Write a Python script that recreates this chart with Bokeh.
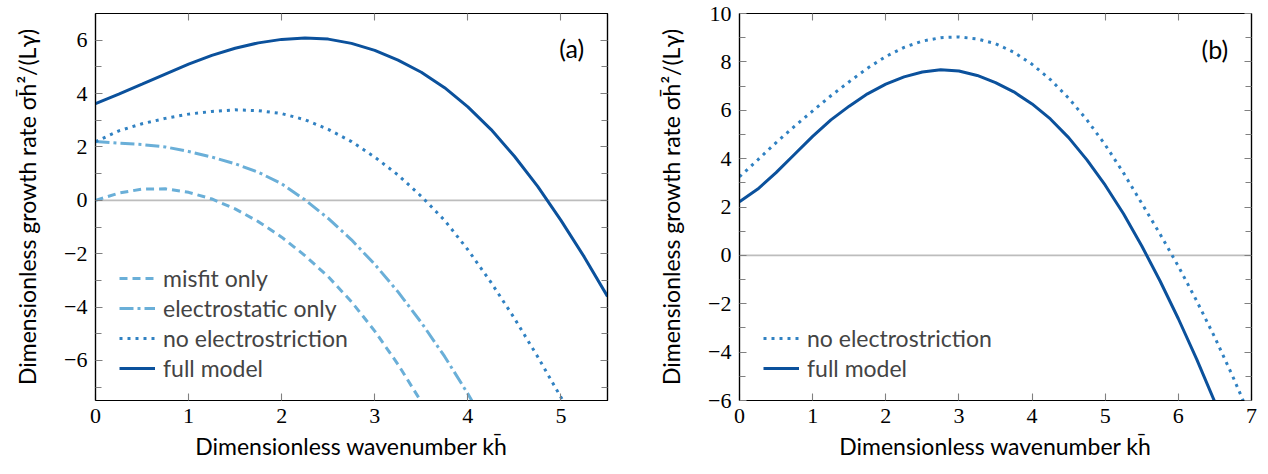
import numpy as np
from bokeh.plotting import figure
from bokeh.models import (Range1d, LinearAxis, FixedTicker, Span, Legend,
                          LegendItem, Label, CustomJSTickFormatter)
from bokeh.layouts import row
from bokeh.embed import file_html
from bokeh.resources import INLINE

# ---------------- panel (a) data ----------------
ka_misfit = [0, 0.25, 0.5, 0.75, 1.0, 1.25, 1.5, 1.75, 2.0, 2.25, 2.5, 2.75, 3.0, 3.25, 3.5]
sa_misfit = [0.0, 0.27, 0.42, 0.43, 0.3, 0.05, -0.32, -0.8, -1.38, -2.07, -2.86, -3.8, -4.9, -6.15, -7.55]

ka_elec = [0, 0.25, 0.5, 0.75, 1.0, 1.25, 1.5, 1.75, 2.0, 2.25, 2.5, 2.75, 3.0, 3.25, 3.5, 3.75, 4.0, 4.05]
sa_elec = [2.2, 2.14, 2.09, 2.0, 1.83, 1.62, 1.37, 1.05, 0.62, 0.02, -0.68, -1.48, -2.4, -3.43, -4.58, -5.85, -7.25, -7.55]

ka_noes = [0, 0.25, 0.5, 0.75, 1.0, 1.25, 1.5, 1.75, 2.0, 2.25, 2.5, 2.75, 3.0, 3.25, 3.5, 3.75, 4.0, 4.25, 4.5, 4.75, 5.0, 5.05]
sa_noes = [2.2, 2.6, 2.87, 3.07, 3.23, 3.33, 3.39, 3.36, 3.25, 3.02, 2.66, 2.2, 1.62, 0.95, 0.15, -0.75, -1.85, -3.08, -4.42, -5.86, -7.38, -7.7]

ka_full = [0, 0.25, 0.5, 0.75, 1.0, 1.25, 1.5, 1.75, 2.0, 2.25, 2.5, 2.75, 3.0, 3.25, 3.5, 3.75, 4.0, 4.25, 4.5, 4.75, 5.0, 5.25, 5.5]
sa_full = [3.62, 3.98, 4.35, 4.73, 5.1, 5.43, 5.7, 5.9, 6.03, 6.08, 6.04, 5.88, 5.62, 5.25, 4.8, 4.22, 3.5, 2.65, 1.65, 0.52, -0.75, -2.12, -3.6]

# ---------------- panel (b) data ----------------
kb_noes = [0, 0.25, 0.5, 0.75, 1.0, 1.25, 1.5, 1.75, 2.0, 2.25, 2.5, 2.75, 3.0, 3.25, 3.5, 3.75, 4.0, 4.25, 4.5, 4.75, 5.0, 5.25, 5.5, 5.75, 6.0, 6.25, 6.5, 6.75, 6.9]
sb_noes = [3.25, 3.95, 4.66, 5.33, 5.97, 6.6, 7.18, 7.74, 8.22, 8.6, 8.86, 9.0, 9.03, 8.95, 8.75, 8.4, 7.9, 7.27, 6.5, 5.6, 4.57, 3.41, 2.15, 0.88, -0.45, -1.88, -3.4, -5.05, -6.1]

kb_full = [0, 0.25, 0.5, 0.75, 1.0, 1.25, 1.5, 1.75, 2.0, 2.25, 2.5, 2.75, 3.0, 3.25, 3.5, 3.75, 4.0, 4.25, 4.5, 4.75, 5.0, 5.25, 5.5, 5.75, 6.0, 6.25, 6.5]
sb_full = [2.22, 2.74, 3.42, 4.17, 4.92, 5.6, 6.17, 6.68, 7.08, 7.38, 7.58, 7.67, 7.62, 7.44, 7.14, 6.76, 6.26, 5.64, 4.87, 3.95, 2.9, 1.72, 0.39, -1.06, -2.62, -4.29, -6.07]

# ticks / labels
xa_ticks = [0, 1, 2, 3, 4, 5]
ya_ticks = [-6, -4, -2, 0, 2, 4, 6]
ya_minor = [-7, -5, -3, -1, 1, 3, 5]
xb_ticks = [0, 1, 2, 3, 4, 5, 6, 7]
yb_ticks = [-6, -4, -2, 0, 2, 4, 6, 8, 10]
yb_minor = [-5, -3, -1, 1, 3, 5, 7, 9]

XLABEL = "Dimensionless wavenumber kh\u0304"
YLABEL = "Dimensionless growth rate \u03c3h\u0304\u00b2/(L\u03b3)"

C_FULL = "#0b519c"
C_DOT = "#3081c2"
C_LIGHT = "#6aafd8"
TICK_C = "#808080"
SANS = "Lato"
SERIF = "Liberation Serif"

fmt_js = "return tick < 0 ? '\\u2212' + Math.abs(tick) : tick.toString();"
blank_js = "return '';"


def make_fig(xr, yr, xt, yt, ym, bl, br):
    p = figure(frame_width=512, frame_height=387, x_range=Range1d(*xr), y_range=Range1d(*yr),
               output_backend="svg", toolbar_location=None,
               min_border_left=bl, min_border_right=br, min_border_top=13, min_border_bottom=0)
    p.grid.visible = False
    p.outline_line_color = "black"
    p.outline_line_width = 1.2
    p.background_fill_color = "white"
    p.border_fill_color = "white"

    def style_axis(ax, ticks, minor, show_labels):
        ax.ticker = FixedTicker(ticks=ticks, minor_ticks=minor)
        ax.major_tick_in = 7
        ax.major_tick_out = 0
        ax.minor_tick_in = 6
        ax.minor_tick_out = 0
        ax.major_tick_line_color = TICK_C
        ax.minor_tick_line_color = TICK_C
        ax.major_tick_line_width = 1.1
        ax.minor_tick_line_width = 1.1
        ax.axis_line_color = "black"
        ax.axis_line_width = 1.2
        if show_labels:
            ax.formatter = CustomJSTickFormatter(code=fmt_js)
            ax.major_label_text_font = SERIF
            ax.major_label_text_font_size = "22px"
            ax.major_label_text_color = "black"
            ax.major_label_standoff = 8
            ax.axis_label_text_font = SANS
            ax.axis_label_text_font_size = "23px"
            ax.axis_label_text_font_style = "normal"
            ax.axis_label_text_color = "black"
        else:
            ax.formatter = CustomJSTickFormatter(code=blank_js)
            ax.major_label_text_font_size = "1px"
            ax.major_label_standoff = 0
            ax.axis_label = None

    style_axis(p.xaxis[0], xt, [], True)
    style_axis(p.yaxis[0], yt, ym, True)
    p.xaxis[0].axis_label = XLABEL
    p.yaxis[0].axis_label = YLABEL
    p.xaxis[0].axis_label_standoff = 6
    p.yaxis[0].axis_label_standoff = 20

    top = LinearAxis()
    style_axis(top, xt, [], False)
    p.add_layout(top, "above")
    right = LinearAxis()
    style_axis(right, yt, ym, False)
    p.add_layout(right, "right")

    p.add_layout(Span(location=0, dimension="width", line_color="#bdbdbd",
                      line_width=1.6, level="underlay"))
    return p


def add_legend(p, items):
    lg = Legend(items=items, location=(24, 17), padding=0, margin=0, spacing=0,
                glyph_width=36, glyph_height=30, label_height=30, label_standoff=8,
                border_line_color=None, background_fill_alpha=0.0,
                label_text_font=SANS, label_text_font_size="23px")
    p.add_layout(lg)


# ---------------- panel (a) ----------------
pa = make_fig((0, 5.5), (-7.5, 7), xa_ticks, ya_ticks, ya_minor, 95, 20)
r1 = pa.line(ka_misfit, sa_misfit, line_color=C_LIGHT, line_width=3, line_dash="8 5")
r2 = pa.line(ka_elec, sa_elec, line_color=C_LIGHT, line_width=3, line_dash="14 4 3 4")
r3 = pa.line(ka_noes, sa_noes, line_color=C_DOT, line_width=3, line_dash="3 5")
r4 = pa.line(ka_full, sa_full, line_color=C_FULL, line_width=3)
add_legend(pa, [LegendItem(label="misfit only", renderers=[r1]),
                LegendItem(label="electrostatic only", renderers=[r2]),
                LegendItem(label="no electrostriction", renderers=[r3]),
                LegendItem(label="full model", renderers=[r4])])
pa.add_layout(Label(x=5.25, y=5.7, text="(a)", text_align="right", text_baseline="middle",
                    text_font=SANS, text_font_size="25px", text_color="black"))

# ---------------- panel (b) ----------------
pb = make_fig((0, 7), (-6, 10), xb_ticks, yb_ticks, yb_minor, 112, 8)
q1 = pb.line(kb_noes, sb_noes, line_color=C_DOT, line_width=3, line_dash="3 5")
q2 = pb.line(kb_full, sb_full, line_color=C_FULL, line_width=3)
add_legend(pb, [LegendItem(label="no electrostriction", renderers=[q1]),
                LegendItem(label="full model", renderers=[q2])])
pb.add_layout(Label(x=6.68, y=8.52, text="(b)", text_align="right", text_baseline="middle",
                    text_font=SANS, text_font_size="25px", text_color="black"))

layout = row(pa, pb)
open("out.html", "w").write(file_html(layout, INLINE))
